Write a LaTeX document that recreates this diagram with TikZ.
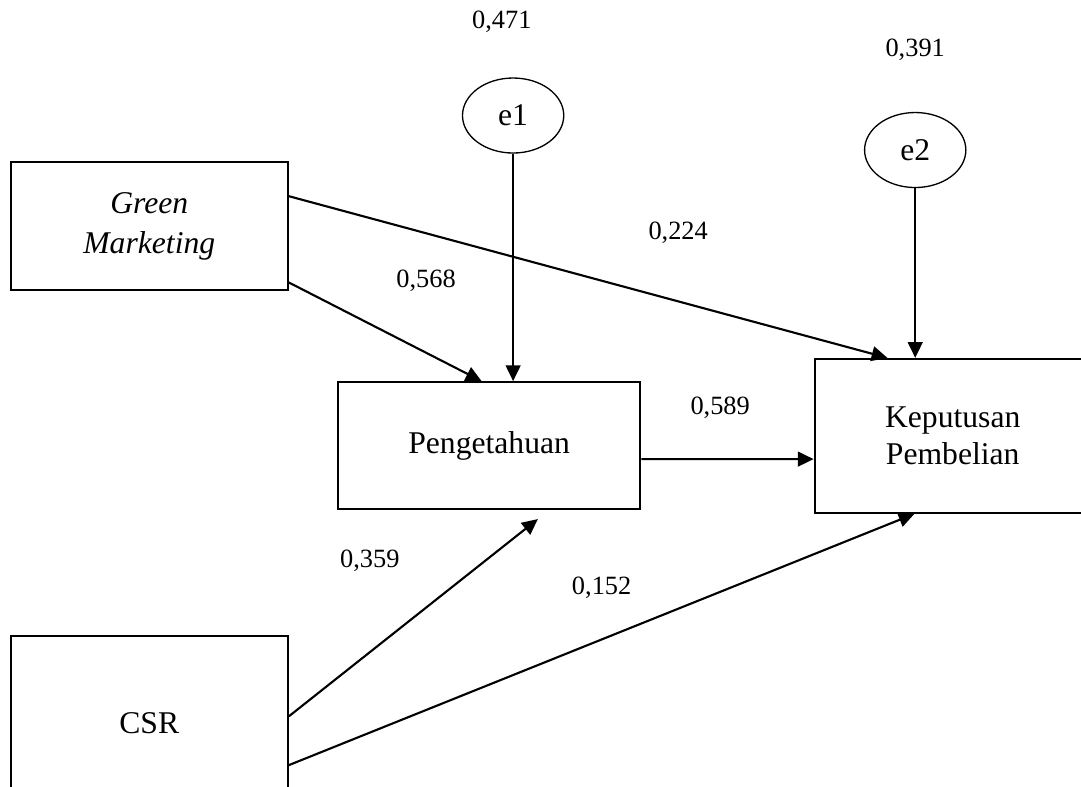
\documentclass[tikz,border=0pt]{standalone}
\usepackage{fontspec}
\setmainfont{Liberation Serif}
\usetikzlibrary{arrows.meta,shapes.geometric}

\begin{document}
\begin{tikzpicture}[
    box/.style={shape=rectangle, draw=black, line width=0.8pt, font=\fontsize{12}{14}\selectfont, align=center, inner sep=0pt},
    err/.style={shape=ellipse, draw=black, line width=0.5pt, minimum width=1.35cm, minimum height=1cm, font=\fontsize{12}{14}\selectfont, inner sep=0pt},
    coef/.style={font=\fontsize{10}{12}\selectfont},
    arr/.style={line width=0.8pt, -{Triangle[length=6pt,width=5.6pt]}}
]
    \clip (0,0) rectangle (14.41,10.48);
    
    \node[box, minimum width=3.69cm, minimum height=1.71cm, font=\fontsize{12}{15}\selectfont] (gm) at (1.99, 7.465) {\itshape Green\\ \itshape Marketing};
    \node[box, minimum width=4.03cm, minimum height=1.69cm] (peng) at (6.52, 4.54) {Pengetahuan};
    \node[box, minimum width=3.68cm, minimum height=2.05cm] (kep) at (12.70, 4.67) {Keputusan\\Pembelian};
    \node[box, minimum width=3.69cm, minimum height=2.32cm] (csr) at (1.99, 0.84) {CSR};
    \node[err] (e1) at (6.84, 8.94) {e1};
    \node[err] (e2) at (12.20, 8.48) {e2};
    
    \path[arr] ([yshift=0.4cm]gm.east) edge ([xshift=-0.87cm]kep.north);
    \path[arr] ([yshift=-0.75cm]gm.east) edge ([xshift=-0.1cm]peng.north);
    \path[arr] (e1) edge (e1 |- peng.north);
    \path[arr] (e2) edge (e2 |- kep.north);
    \path[arr] ([yshift=-0.18cm]peng.east) edge ([yshift=-0.31cm]kep.west);
    \path[arr] ([yshift=0.09cm]csr.east) edge ([shift={(0.65,-0.12)}]peng.south);
    \path[arr] ([yshift=-0.56cm]csr.east) edge ([xshift=-0.51cm]kep.south);
    
    \node[coef] (c1) at (6.69, 10.19) {0,471};
    \node[coef] (c2) at (12.20, 9.81) {0,391};
    \node[coef] (c3) at (9.04, 7.38) {0,224};
    \node[coef] (c4) at (5.68, 6.74) {0,568};
    \node[coef] (c5) at (9.60, 5.04) {0,589};
    \node[coef] (c6) at (4.93, 3.00) {0,359};
    \node[coef] (c7) at (8.02, 2.65) {0,152};
    
\end{tikzpicture}
\end{document}
